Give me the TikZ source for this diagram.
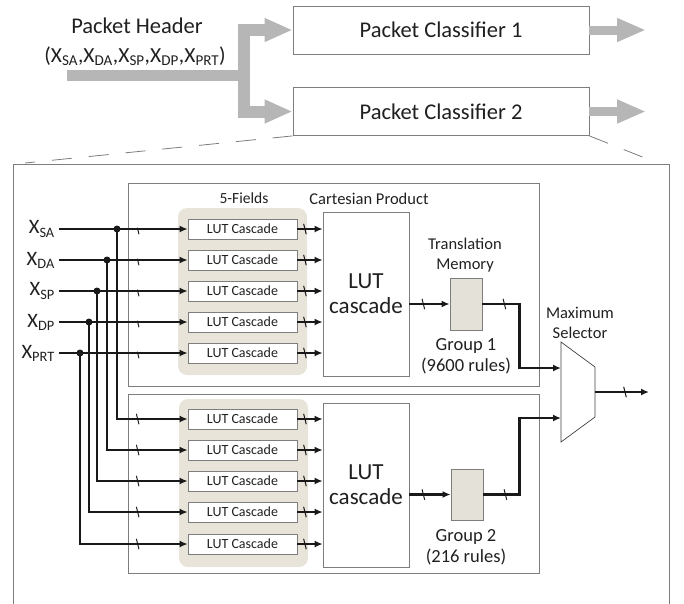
\documentclass[tikz,border=0pt]{standalone}
\usepackage{fontspec}
\setmainfont{Carlito}
\usetikzlibrary{arrows.meta,decorations.markings}
\definecolor{hgray}{RGB}{182,182,182}
\definecolor{bord}{RGB}{125,125,125}
\definecolor{beige}{RGB}{232,228,218}
\definecolor{tmfill}{RGB}{228,225,217}
\definecolor{ink}{RGB}{25,25,25}
\definecolor{txt}{RGB}{32,32,32}
\begin{document}
\begin{tikzpicture}[x=1pt,y=-1pt,
  every node/.style={text=txt, inner sep=0pt},
  pcbox/.style={draw=bord, line width=0.8pt, fill=white, minimum width=296pt, minimum height=48pt, font=\fontsize{22.5}{26}\selectfont},
  grp/.style={draw=bord, line width=0.8pt},
  fields/.style={fill=beige, rounded corners=9pt, minimum width=129pt},
  lut/.style={draw=bord, line width=0.7pt, fill=white, minimum width=109pt, minimum height=20pt, font=\fontsize{14}{16}\selectfont},
  cart/.style={draw=bord, line width=0.7pt, fill=white, minimum width=86pt, minimum height=164pt, align=center, font=\fontsize{23}{25}\selectfont},
  tmbox/.style={draw=bord, line width=0.8pt, fill=tmfill, minimum width=32pt, minimum height=52pt},
  lbl/.style={align=center, font=\fontsize{16.5}{20}\selectfont},
  glbl/.style={align=center, font=\fontsize{18.5}{21}\selectfont},
  bus/.style={draw=ink, line width=2.5pt, -{Latex[length=8pt,width=7pt]}},
  tickat/.style={postaction={decorate,decoration={markings,mark=at position #1 with {\pgftransformresetnontranslations\draw[ink,line width=1pt,-] (-1.3pt,5.2pt) -- (1.3pt,-5.2pt);}}}},
  dot/.style={circle, fill=ink, minimum size=7pt}
]
\useasboundingbox (0,0) rectangle (684,603);

% ---- top level ----
\node[font=\fontsize{22.5}{26}\selectfont] (hdr1) at (137,26) {Packet Header};
\node[font=\fontsize{21.5}{25}\selectfont] (hdr2) at (135,56) {(X\textsubscript{SA},X\textsubscript{DA},X\textsubscript{SP},X\textsubscript{DP},X\textsubscript{PRT})};
\node[pcbox] (pc1) at (441,30) {Packet Classifier 1};
\node[pcbox] (pc2) at (441,111.5) {Packet Classifier 2};
\coordinate (hin) at (67,75);
\coordinate (hj) at (243.5,75);
\coordinate (o1) at (646,30);
\coordinate (o2) at (646,111.5);
\draw[hgray, line width=11pt] (hin) -- ([xshift=6.5pt]hj);
\draw[hgray, line width=12pt, {Triangle[length=28pt,width=22pt]}-{Triangle[length=28pt,width=22pt]}]
  (pc1.west) -- (pc1.west -| hj) -- (pc2.west -| hj) -- (pc2.west);
\draw[hgray, line width=9pt, -{Triangle[length=29pt,width=22pt]}] (pc1.east) -- (o1);
\draw[hgray, line width=9pt, -{Triangle[length=29pt,width=22pt]}] (pc2.east) -- (o2);

% zoom lines
\coordinate (zl) at (25,163);
\coordinate (zr) at (650,160);
\draw[bord, line width=0.8pt, dash pattern=on 20pt off 17pt] (pc2.south west) -- (zl);
\draw[bord, line width=0.8pt, dash pattern=on 20pt off 17pt] (pc2.south east) -- (zr);
\draw[bord, line width=1pt] (13,610) -- (13,164) -- (669,164) -- (669,610);

% ---- groups ----
\node[grp, minimum width=411pt, minimum height=203pt] (g1) at (333.5,284.5) {};
\node[grp, minimum width=411pt, minimum height=179pt] (g2) at (333.5,483.5) {};
\node[fields, minimum height=167pt] (f1) at (242.5,291.5) {};
\node[fields, minimum height=168pt] (f2) at (243.5,483) {};
\node[font=\fontsize{15.5}{18}\selectfont] (f1l) at (244,198) {5-Fields};
\node[font=\fontsize{16.5}{19}\selectfont] (cpl) at (369,199) {Cartesian Product};

\node[cart] (c1) at (366,294) {LUT\\cascade};
\node[cart] (c2) at (366,485) {LUT\\cascade};
\node[tmbox] (t1) at (466,304) {};
\node[tmbox, minimum height=51pt] (t2) at (467,494.5) {};
\node[lbl] (tml) at (465,255) {Translation\\Memory};
\node[glbl] (gl1) at (466,356.5) {Group 1\\(9600 rules)};
\node[glbl] (gl2) at (466,547) {Group 2\\(216 rules)};

% ---- inputs ----
\foreach \i/\ya/\yb/\xd/\lab/\lw in {1/229/419/117/SA/2.6pt, 2/260/450/107/DA/2.6pt, 3/291/481/97/SP/2.6pt, 4/322/512/89/DP/1.8pt, 5/353/544/80/PRT/2.6pt}{
  \node[lut] (la\i) at (242.5,\ya) {LUT Cascade};
  \node[lut] (lb\i) at (242.5,\yb) {LUT Cascade};
  \node[anchor=east, font=\fontsize{20.5}{24}\selectfont] (x\i) at (55,\ya) {X\textsubscript{\lab}};
  \draw[bus, tickat=-50pt, shorten <=4pt] (x\i.east) -- (la\i.west);
  \node[dot] (d\i) at (\xd,\ya) {};
  \draw[bus, line width=\lw, tickat=-50pt] (d\i.center) |- (lb\i.west);
  \draw[bus, line width=2.8pt, tickat=0.3] (la\i.east) -- (la\i.east -| c1.west);
  \draw[bus, line width=2.8pt, tickat=0.3] (lb\i.east) -- (lb\i.east -| c2.west);
}

% ---- translation memory links ----
\draw[bus, line width=2.8pt, tickat=14pt] (c1.east |- t1.west) -- (t1.west);
\draw[bus, line width=2.8pt, tickat=14pt] (c2.east |- t2.west) -- (t2.west);

% ---- maximum selector ----
\coordinate (m1) at (561,342);
\coordinate (m2) at (595,367);
\coordinate (m3) at (595,417);
\coordinate (m4) at (561,442);
\draw[draw=black!75, fill=white, line width=0.7pt] (m1) -- (m2) -- (m3) -- (m4) -- cycle;
\coordinate (mi1) at (561,368);
\coordinate (mi2) at (561,418);
\coordinate (mo) at (595,392);
\coordinate (mout) at (649,392);
\node[lbl] (msl) at (580,323) {Maximum\\Selector};
\draw[bus, line width=2.8pt, tickat=22pt] (t1.east) -- ++(37,0) |- (mi1);
\draw[bus, line width=2.8pt, tickat=22pt] (t2.east) -- ++(36,0) |- (mi2);
\draw[bus, tickat=30pt] (mo) -- (mout);
\end{tikzpicture}
\end{document}
